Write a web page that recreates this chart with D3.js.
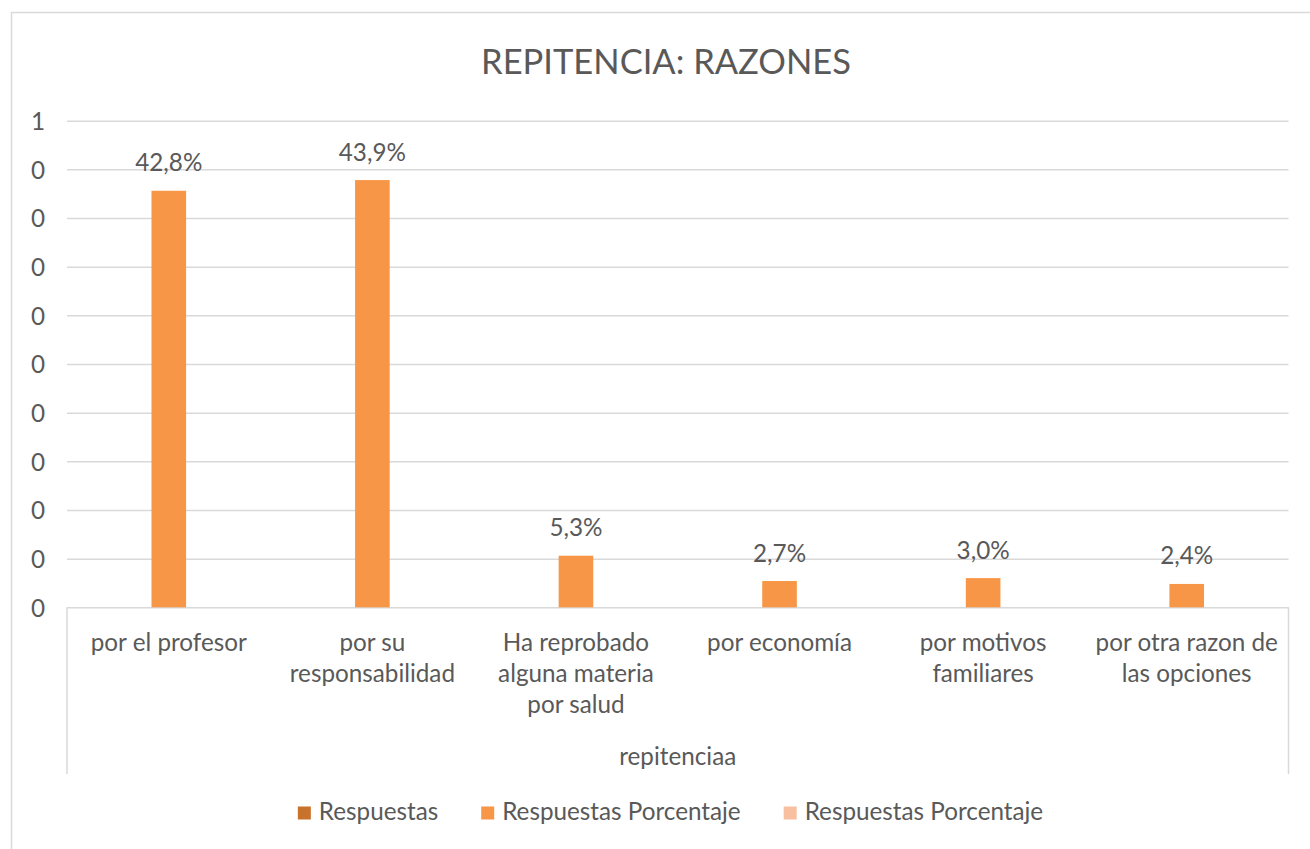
<!DOCTYPE html>
<html>
<head>
<meta charset="utf-8">
<script src="https://cdn.jsdelivr.net/npm/d3@7"></script>
<style>
  html, body { margin: 0; padding: 0; background: #ffffff; }
  svg { display: block; }
</style>
</head>
<body>
<svg id="chart" width="1310" height="849"></svg>
<script>
// ---- data ----
const chartTitle = "REPITENCIA: RAZONES";
const axisTitle = "repitenciaa";
const categories = [
  "por el profesor",
  "por su responsabilidad",
  "Ha reprobado alguna materia por salud",
  "por economía",
  "por motivos familiares",
  "por otra razon de las opciones"
];
const porcentaje = [0.428, 0.439, 0.053, 0.027, 0.030, 0.024];
const yTickValues = [0, 0.05, 0.10, 0.15, 0.20, 0.25, 0.30, 0.35, 0.40, 0.45, 0.50];
const yTickLabels = ["0", "0", "0", "0", "0", "0", "0", "0", "0", "0", "1"];
const legendNames = ["Respuestas", "Respuestas Porcentaje", "Respuestas Porcentaje"];
const legendColors = ["#C8722C", "#F79646", "#F8BFA0"];

// ---- layout ----
const W = 1310, H = 849;
const FONT = "Lato, 'Open Sans', 'Noto Sans', sans-serif";
const TEXT = "#595959";
const GRID = "#D9D9D9";
const plot = { left: 67, right: 1288.5, top: 120.7, bottom: 607.3 };

const svg = d3.select("#chart");

// font calibration helper
const meas = svg.append("text").attr("font-family", FONT).attr("font-size", 100).attr("opacity", 0);
function widthAt100(s) { meas.text(s); return meas.node().getComputedTextLength(); }
const labelFs = 100 * 156 / widthAt100("por el profesor");
const titleFs = 100 * 370 / widthAt100(chartTitle);
meas.remove();

// outer border
svg.append("rect")
  .attr("x", 11.5).attr("y", 12.5)
  .attr("width", W + 20).attr("height", H + 20)
  .attr("fill", "none").attr("stroke", GRID).attr("stroke-width", 1.5);

// title
svg.append("text")
  .attr("x", 666).attr("y", 74)
  .attr("text-anchor", "middle")
  .attr("font-family", FONT).attr("font-size", titleFs)
  .attr("fill", TEXT)
  .text(chartTitle);

// scales
const x = d3.scaleBand()
  .domain(categories)
  .range([plot.left, plot.right])
  .paddingInner(0.83)
  .paddingOuter(0.415);
const y = d3.scaleLinear().domain([0, 0.5]).range([plot.bottom, plot.top]);

// gridlines
const yAxis = d3.axisLeft(y)
  .tickValues(yTickValues)
  .tickFormat((d, i) => yTickLabels[i])
  .tickSize(-(plot.right - plot.left))
  .tickPadding(22);
const gy = svg.append("g").attr("transform", `translate(${plot.left},0)`).call(yAxis);
gy.select(".domain").remove();
gy.selectAll(".tick line").attr("stroke", GRID).attr("stroke-width", 1.5);
gy.selectAll(".tick text")
  .attr("font-family", FONT).attr("font-size", labelFs)
  .attr("fill", TEXT).attr("dy", "0.36em");

// category axis box lines
svg.append("g").selectAll("line")
  .data([plot.left, plot.right])
  .join("line")
  .attr("x1", d => d).attr("x2", d => d)
  .attr("y1", plot.bottom).attr("y2", 774)
  .attr("stroke", GRID).attr("stroke-width", 1.5);

// bars
svg.append("g").selectAll("rect")
  .data(porcentaje)
  .join("rect")
  .attr("x", (d, i) => x(categories[i]))
  .attr("width", x.bandwidth())
  .attr("y", d => y(d))
  .attr("height", d => y(0) - y(d))
  .attr("fill", legendColors[1]);

// data labels
const esLocale = d3.formatLocale({ decimal: ",", thousands: ".", grouping: [3], currency: ["", "€"] });
const pct = esLocale.format(".1%");
svg.append("g").selectAll("text")
  .data(porcentaje)
  .join("text")
  .attr("x", (d, i) => x(categories[i]) + x.bandwidth() / 2)
  .attr("y", d => y(d) - 19.5)
  .attr("text-anchor", "middle")
  .attr("font-family", FONT).attr("font-size", labelFs)
  .attr("fill", TEXT)
  .text(d => pct(d));

// category labels (wrapped)
const meas2 = svg.append("text").attr("font-family", FONT).attr("font-size", labelFs).attr("opacity", 0);
function tw(s) { meas2.text(s); return meas2.node().getComputedTextLength(); }
function wrap(s, maxW) {
  const words = s.split(" ");
  const lines = [];
  let cur = "";
  words.forEach(w => {
    const t = cur ? cur + " " + w : w;
    if (cur && tw(t) > maxW) { lines.push(cur); cur = w; } else { cur = t; }
  });
  if (cur) lines.push(cur);
  return lines;
}
const wrapW = 189;
const catG = svg.append("g");
categories.forEach(c => {
  const lines = wrap(c, wrapW);
  const t = catG.append("text")
    .attr("text-anchor", "middle")
    .attr("font-family", FONT).attr("font-size", labelFs)
    .attr("fill", TEXT);
  lines.forEach((ln, j) => {
    t.append("tspan")
      .attr("x", x(c) + x.bandwidth() / 2)
      .attr("y", 651 + j * 31)
      .text(ln);
  });
});
meas2.remove();

// axis title
svg.append("text")
  .attr("x", (plot.left + plot.right) / 2).attr("y", 765)
  .attr("text-anchor", "middle")
  .attr("font-family", FONT).attr("font-size", labelFs)
  .attr("fill", TEXT)
  .text(axisTitle);

// legend
const legend = svg.append("g");
const sw = 13, swGap = 8, itemGap = 43;
const items = legend.selectAll("g").data(legendNames).join("g");
items.append("rect")
  .attr("width", sw).attr("height", sw)
  .attr("y", 806.5)
  .attr("fill", (d, i) => legendColors[i]);
items.append("text")
  .attr("x", sw + swGap).attr("y", 820)
  .attr("font-family", FONT).attr("font-size", labelFs)
  .attr("fill", TEXT)
  .text(d => d);
let widths = [];
items.each(function () { widths.push(this.querySelector("text").getComputedTextLength() + sw + swGap); });
const total = d3.sum(widths) + itemGap * (widths.length - 1);
let cx = 670.5 - total / 2;
items.attr("transform", (d, i) => { const t = `translate(${cx},0)`; cx += widths[i] + itemGap; return t; });
</script>
</body>
</html>
